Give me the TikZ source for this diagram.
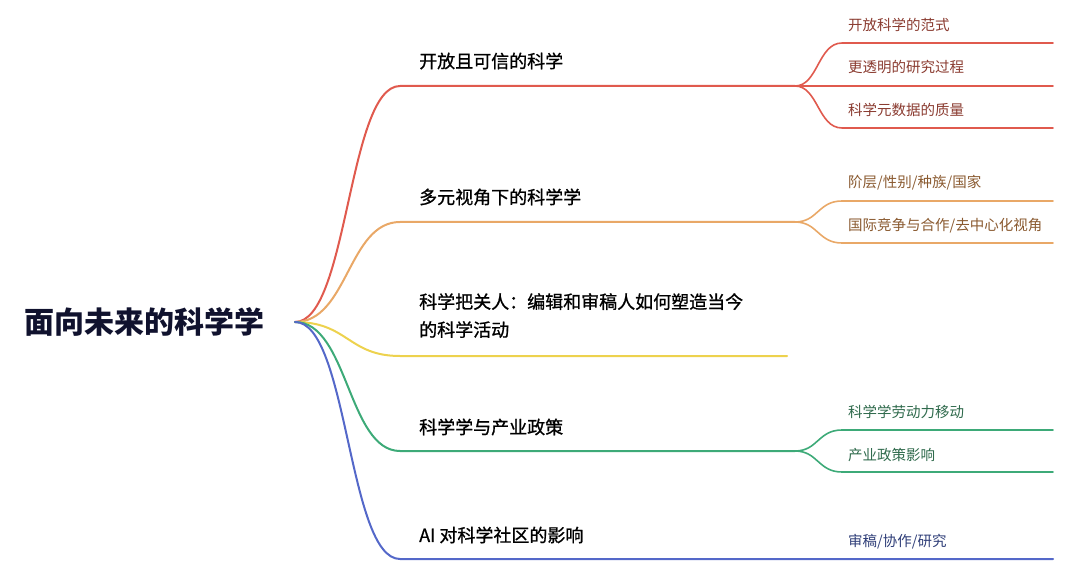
\documentclass[tikz,border=0pt]{standalone}
\usepackage{fontspec}
\setmainfont{Noto Sans CJK SC}
\newfontfamily\medfont{Noto Sans CJK SC}[FakeBold=0.9]
\definecolor{cred}{HTML}{E05A4E}
\definecolor{corange}{HTML}{E9A867}
\definecolor{cyellow}{HTML}{EDD24E}
\definecolor{cgreen}{HTML}{3DAA78}
\definecolor{cblue}{HTML}{5468C9}
\definecolor{tred}{HTML}{8A3B30}
\definecolor{torange}{HTML}{8A5A30}
\definecolor{tgreen}{HTML}{2F6A4C}
\definecolor{tblue}{HTML}{2F3E78}
\definecolor{troot}{HTML}{10122E}
\tikzset{
  mainline/.style={line width=2pt, line cap=round},
  subline/.style={line width=1.6pt, line cap=round},
  maintext/.style={anchor=west, inner sep=0pt, font=\medfont\fontsize{18}{28}\selectfont, text=black, align=left},
  subtext/.style={anchor=west, inner sep=0pt, font=\fontsize{14.5}{18}\selectfont},
  roottext/.style={anchor=west, inner sep=0pt, font=\fontsize{30}{34}\selectfont\bfseries, text=troot}
}
\begin{document}
\begin{tikzpicture}[x=1pt,y=-1pt]
\useasboundingbox (0,0) rectangle (1080,583);
\node[roottext] (root) at (24,322) {面向未来的科学学};
\coordinate (o) at (295,322);
% hubs
\coordinate (h1) at (795,86);
\coordinate (h2) at (795,222);
\coordinate (h3) at (787,356);
\coordinate (h4) at (795,451);
\coordinate (h5) at (1053,559);
% sub ends
\coordinate (e11) at (1053,43);
\coordinate (e12) at (1053,86);
\coordinate (e13) at (1053,128);
\coordinate (e21) at (1053,201);
\coordinate (e22) at (1053,243);
\coordinate (e41) at (1053,430);
\coordinate (e42) at (1053,472);
% main branches
\draw[cred, mainline] (o) .. controls (348,322) and (348,86) .. (400,86) -- (h1);
\draw[corange, mainline] (o) .. controls (348,322) and (348,222) .. (400,222) -- (h2);
\draw[cyellow, mainline] (o) .. controls (348,322) and (348,356) .. (400,356) -- (h3);
\draw[cgreen, mainline] (o) .. controls (348,322) and (348,451) .. (400,451) -- (h4);
\draw[cblue, mainline] (o) .. controls (348,322) and (348,559) .. (400,559) -- (h5);
% sub branches
\draw[cred, subline] (h1) .. controls (818,86) and (818,43) .. (842,43) -- (e11);
\draw[cred, subline] (h1) -- (e12);
\draw[cred, subline] (h1) .. controls (818,86) and (818,128) .. (842,128) -- (e13);
\draw[corange, subline] (h2) .. controls (818,222) and (818,201) .. (842,201) -- (e21);
\draw[corange, subline] (h2) .. controls (818,222) and (818,243) .. (842,243) -- (e22);
\draw[cgreen, subline] (h4) .. controls (818,451) and (818,430) .. (842,430) -- (e41);
\draw[cgreen, subline] (h4) .. controls (818,451) and (818,472) .. (842,472) -- (e42);
% main texts
\node[maintext] (b1) at (419,61) {开放且可信的科学};
\node[maintext] (b2) at (419,197) {多元视角下的科学学};
\node[maintext, anchor=north west] (b3) at (419,293) {科学把关人：编辑和审稿人如何塑造当今\\的科学活动};
\node[maintext] (b4) at (419,427) {科学学与产业政策};
\node[maintext] (b5) at (419,535) {AI 对科学社区的影响};
% sub texts
\node[subtext, text=tred] (s11) at (848,25) {开放科学的范式};
\node[subtext, text=tred] (s12) at (848,67) {更透明的研究过程};
\node[subtext, text=tred] (s13) at (848,110) {科学元数据的质量};
\node[subtext, text=torange] (s21) at (848,183) {阶层/性别/种族/国家};
\node[subtext, text=torange] (s22) at (848,226) {国际竞争与合作/去中心化视角};
\node[subtext, text=tgreen] (s41) at (848,412) {科学学劳动力移动};
\node[subtext, text=tgreen] (s42) at (848,455) {产业政策影响};
\node[subtext, text=tblue] (s51) at (848,542) {审稿/协作/研究};
\end{tikzpicture}
\end{document}
